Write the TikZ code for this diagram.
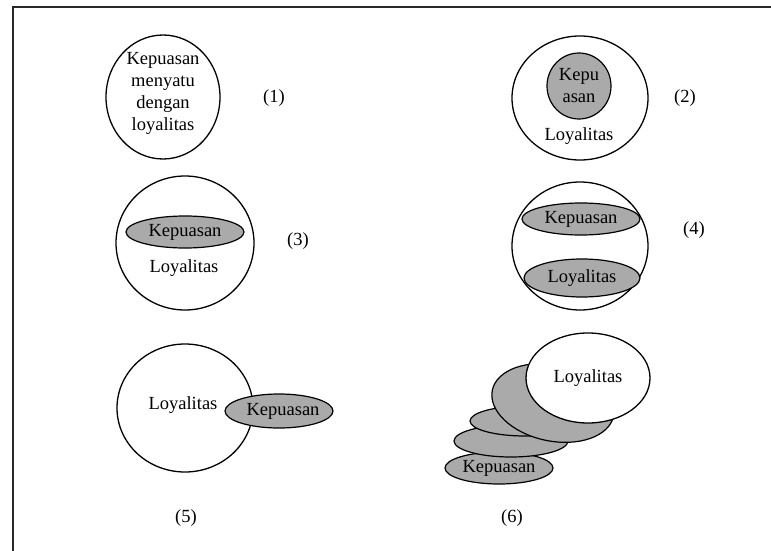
\documentclass[tikz,border=0pt]{standalone}
\usepackage{fontspec}
\setmainfont{Liberation Serif}
\usetikzlibrary{shapes.geometric}
\definecolor{fillgrey}{RGB}{170,170,170}
\definecolor{framegrey}{RGB}{40,40,40}
\tikzset{
  ring/.style={draw=black, line width=1.3pt, ellipse, inner sep=0pt, fill=white},
  greyell/.style={draw=black, line width=1.2pt, ellipse, inner sep=0pt, fill=fillgrey},
  lbl/.style={inner sep=0pt, font=\fontsize{18.5}{22}\selectfont},
}
\begin{document}
\begin{tikzpicture}[x=1pt,y=-1pt]
\useasboundingbox (0,0) rectangle (771,551);
% frame
\coordinate (ftl) at (13,7);
\coordinate (ftr) at (771,7);
\coordinate (fbl) at (13,551);
\draw[framegrey, line width=2pt] (fbl) -- (ftl) -- (ftr);

% (1)
\node[ring, minimum width=114pt, minimum height=124pt] (c1) at (163,97) {};
\node[lbl, align=center] (t1) at (163,93) {Kepuasan\\menyatu\\dengan\\loyalitas};
\node[lbl] (n1) at (274,98) {(1)};

% (2)
\node[ring, minimum width=136pt, minimum height=124pt] (c2) at (580,98) {};
\node[greyell, minimum width=64pt, minimum height=66pt, align=center, lbl] (k2) at (579,86) {Kepu\\asan};
\node[lbl] (l2) at (579,136) {Loyalitas};
\node[lbl] (n2) at (685,98) {(2)};

% (3)
\node[ring, minimum width=138pt, minimum height=134pt] (c3) at (185,243) {};
\node[greyell, minimum width=118pt, minimum height=32pt, lbl] (k3) at (185,232) {Kepuasan};
\node[lbl] (l3) at (184,268) {Loyalitas};
\node[lbl] (n3) at (298,241) {(3)};

% (4)
\node[ring, minimum width=136pt, minimum height=128pt] (c4) at (580,246) {};
\node[greyell, minimum width=118pt, minimum height=32pt, lbl] (k4) at (581,219) {Kepuasan};
\node[greyell, minimum width=116pt, minimum height=38pt, lbl] (l4) at (582,278) {Loyalitas};
\node[lbl] (n4) at (694,230) {(4)};

% (5)
\node[ring, minimum width=136pt, minimum height=128pt] (c5) at (185,408) {};
\node[lbl] (l5) at (183,405) {Loyalitas};
\node[greyell, minimum width=108pt, minimum height=34pt] (k5) at (279,411) {};
\node[lbl] (k5t) at (283,411) {Kepuasan};
\node[lbl] (n5) at (186,518) {(5)};

% (6)
\node[greyell, minimum width=108pt, minimum height=32pt, lbl] (k6) at (499,468) {Kepuasan};
\node[greyell, minimum width=114pt, minimum height=32pt] (e2) at (511,441) {};
\node[greyell, minimum width=110pt, minimum height=30pt] (e3) at (525,421) {};
\node[greyell, minimum width=124pt, minimum height=76pt, rotate=-12] (e4) at (553,403) {};
\node[ring, minimum width=124pt, minimum height=90pt, lbl] (l6) at (588,378) {Loyalitas};
\node[lbl] (n6) at (512,518) {(6)};
\end{tikzpicture}
\end{document}
